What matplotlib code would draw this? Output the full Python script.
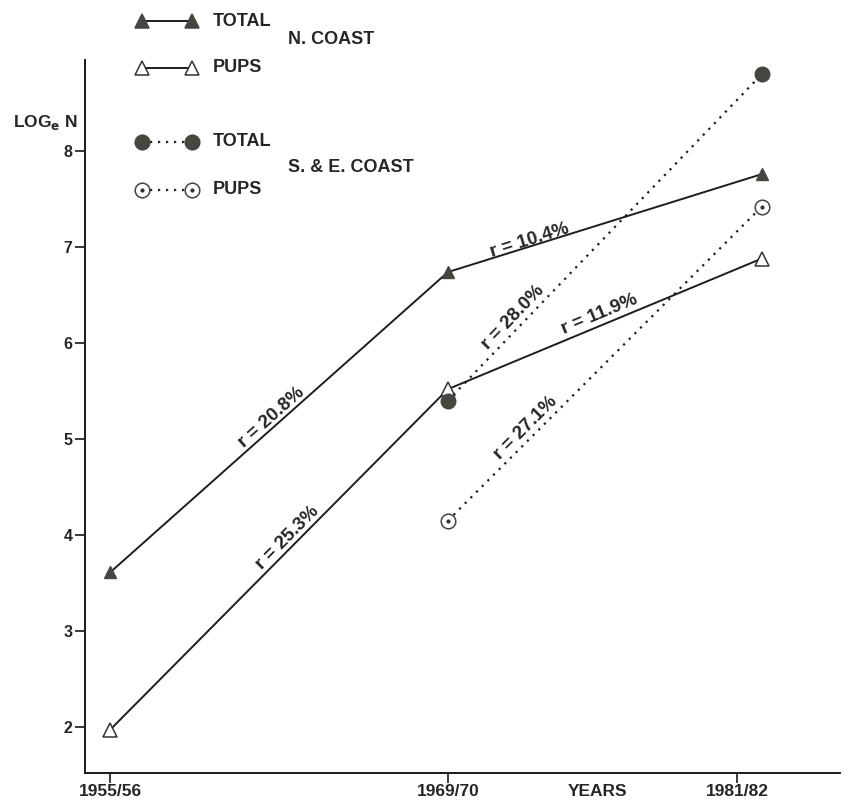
import numpy as np
import matplotlib
matplotlib.use("Agg")
import matplotlib.pyplot as plt
from matplotlib.lines import Line2D

plt.rcParams['font.family'] = ['Liberation Sans', 'DejaVu Sans']
plt.rcParams['font.weight'] = 'bold'
plt.rcParams['mathtext.default'] = 'bf'

# ---- data ----
years = [1955.5, 1969.5, 1982.5]
year_ticks = [1955.5, 1969.5, 1981.5]
year_labels = ["1955/56", "1969/70", "1981/82"]
yticks = [2, 3, 4, 5, 6, 7, 8]

n_total = [3.61, 6.74, 7.76]
n_pups = [1.97, 5.52, 6.88]
se_years = [1969.5, 1982.5]
se_total = [5.40, 8.80]
se_pups = [4.15, 7.42]

rates = ["r = 20.8%", "r = 25.3%", "r = 10.4%", "r = 28.0%", "r = 11.9%", "r = 27.1%"]

W, H = 848, 802
fig = plt.figure(figsize=(W / 100, H / 100), dpi=100)
ax = fig.add_axes([85 / W, (H - 773) / H, (840 - 85) / W, (773 - 60) / H])
ax.set_xlim(1954.46, 1985.75)
ax.set_ylim(1.52, 8.95)

for s in ['top', 'right']:
    ax.spines[s].set_visible(False)
for s in ['left', 'bottom']:
    ax.spines[s].set_linewidth(1.4)
    ax.spines[s].set_color('#1a1a1a')

tc = '#262626'
ax.set_xticks(year_ticks)
ax.set_xticklabels(year_labels, fontsize=12.5, fontweight='bold', color=tc)
ax.set_yticks(yticks)
ax.set_yticklabels([str(v) for v in yticks], fontsize=11.5, fontweight='bold', color=tc)
ax.tick_params(axis='both', direction='out', length=7, width=1.2, colors='#1a1a1a')
ax.tick_params(axis='x', pad=1, labelcolor=tc)
ax.tick_params(axis='y', pad=2, labelcolor=tc)

dark = '#45463f'
lc = '#1e1e1e'
dot_ls = (0, (1, 2.6))

ax.plot(years, n_total, color=lc, lw=1.4, marker='^', ms=9, mfc=dark, mec=dark, zorder=3)
ax.plot(years, n_pups, color=lc, lw=1.4, marker='^', ms=9.5, mfc='white', mec='#333333', mew=1.1, zorder=3)
ax.plot(se_years, se_total, color=lc, lw=1.6, ls=dot_ls, marker='o', ms=10.5, mfc=dark, mec=dark, zorder=4)
ax.plot(se_years, se_pups, color=lc, lw=1.6, ls=dot_ls, marker='o', ms=10.5, mfc='white', mec='#444444', mew=1.1, zorder=4)
ax.plot(se_years, se_pups, ls='none', marker='o', ms=2, mfc='#333333', mec='#333333', zorder=5)

# rate annotations, rotated along the segments
def seg_angle(x0, y0, x1, y1):
    p0 = ax.transData.transform((x0, y0))
    p1 = ax.transData.transform((x1, y1))
    return np.degrees(np.arctan2(p1[1] - p0[1], p1[0] - p0[0]))

segs = [
    (years[0], n_total[0], years[1], n_total[1]),
    (years[0], n_pups[0], years[1], n_pups[1]),
    (years[1], n_total[1], years[2], n_total[2]),
    (se_years[0], se_total[0], se_years[1], se_total[1]),
    (years[1], n_pups[1], years[2], n_pups[2]),
    (se_years[0], se_pups[0], se_years[1], se_pups[1]),
]
label_pos = [(1962.21, 5.23), (1962.87, 3.97), (1972.90, 7.07),
             (1972.2, 6.27), (1975.80, 6.30), (1972.73, 5.12)]
for txt, seg, pos in zip(rates, segs, label_pos):
    ang = seg_angle(*seg)
    ax.text(pos[0], pos[1], txt, rotation=ang, rotation_mode='anchor',
            ha='center', va='center', fontsize=13.5, fontweight='bold', color=tc)

# axis labels
fig.text(598 / W, 1 - 791 / H, "YEARS", ha='center', va='center', fontsize=12.5, fontweight='bold', color=tc)
fig.text(13 / W, 1 - 122 / H, r"LOG$_{\mathbf{e}}$ N", ha='left', va='center', fontsize=12.5, fontweight='bold', color=tc)

# manual legend (pixel positions)
def fx(px):
    return px / W

def fy(py):
    return 1 - py / H

leg = [
    (21, '-', '^', dark, dark, 9.5, "TOTAL"),
    (68, '-', '^', 'white', '#333333', 9.5, "PUPS"),
    (142, dot_ls, 'o', dark, dark, 10.5, "TOTAL"),
    (190, dot_ls, 'o', 'white', '#444444', 10.5, "PUPS"),
]
for py, ls, mk, fc, ec, ms, lab in leg:
    fig.add_artist(Line2D([fx(142), fx(192)], [fy(py), fy(py)], color=lc, lw=1.4 if ls == '-' else 1.6,
                          ls=ls, marker=mk, ms=ms, mfc=fc, mec=ec, mew=1.1, transform=fig.transFigure))
    if lab == "PUPS" and mk == 'o':
        fig.add_artist(Line2D([fx(142), fx(192)], [fy(py), fy(py)], ls='none', marker='o', ms=2,
                              mfc='#333333', mec='#333333', transform=fig.transFigure))
    fig.text(fx(213), fy(py), lab, ha='left', va='center', fontsize=13, fontweight='bold', color=tc)

fig.text(fx(288), fy(39), "N. COAST", ha='left', va='center', fontsize=13, fontweight='bold', color=tc)
fig.text(fx(288), fy(167), "S. & E. COAST", ha='left', va='center', fontsize=13, fontweight='bold', color=tc)

fig.savefig("out.png", dpi=100, facecolor='white')
